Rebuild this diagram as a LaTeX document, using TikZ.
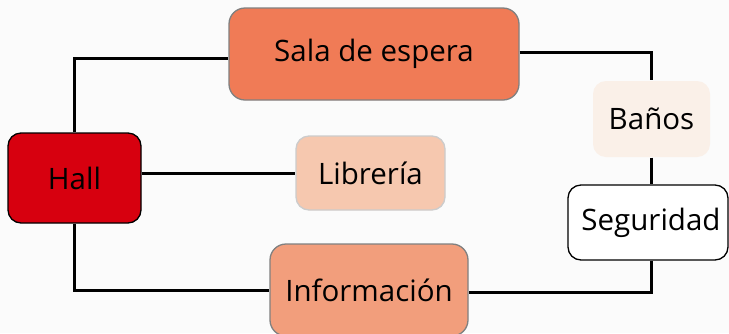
\documentclass[tikz,border=0pt]{standalone}
\usepackage{fontspec}
\setmainfont{Open Sans}
\usetikzlibrary{calc}
\definecolor{hallred}{HTML}{D7000F}
\definecolor{salaorange}{HTML}{F07B56}
\definecolor{infoorange}{HTML}{F29E7C}
\definecolor{libpeach}{HTML}{F6C8AF}
\definecolor{banoscream}{HTML}{FAF0E8}
\definecolor{bggray}{HTML}{FBFBFB}
\tikzset{
  room/.style={rounded corners=13pt, line width=1.3pt, align=center,
    font=\fontsize{29.5}{34}\selectfont},
  link/.style={line width=3pt, color=black},
  every node/.append style={inner sep=0pt}
}

\begin{document}
\begin{tikzpicture}[x=1pt, y=-1pt]
\fill[bggray] (0,0) rectangle (729,333);
\useasboundingbox (0,0) rectangle (729,333);

\node[room, fill=hallred, draw=black, minimum width=133pt, minimum height=90pt] (hall) at (74.5,178) {Hall};
\node[room, fill=salaorange, draw=gray, rounded corners=16pt, minimum width=290pt, minimum height=92pt] (sala) at (374,54) {Sala de espera};
\node[room, fill=libpeach, draw=gray!40, minimum width=149pt, minimum height=74pt] (libreria) at (370.5,173) {Librería};
\node[room, fill=infoorange, draw=gray, rounded corners=16pt, minimum width=198pt, minimum height=92pt] (info) at (369,290) {Información};
\node[room, fill=banoscream, minimum width=117pt, minimum height=76pt] (banos) at (651.5,119) {Baños};
\node[room, fill=white, draw=black, minimum width=160pt, minimum height=75pt] (seguridad) at (648,222.5) {\hspace*{6pt}Seguridad};

\draw[link] (hall.north) |- ($(sala.west)+(0,4)$);
\draw[link] ($(sala.east)+(0,-2)$) -| (banos.north);
\draw[link] (banos.south) -- (banos.south |- seguridad.north);
\draw[link] (banos.south |- seguridad.south) |- ($(info.east)+(0,2)$);
\draw[link] (hall.south) |- (info.west);
\draw[link] (libreria.west -| hall.east) -- (libreria.west);
\end{tikzpicture}
\end{document}
